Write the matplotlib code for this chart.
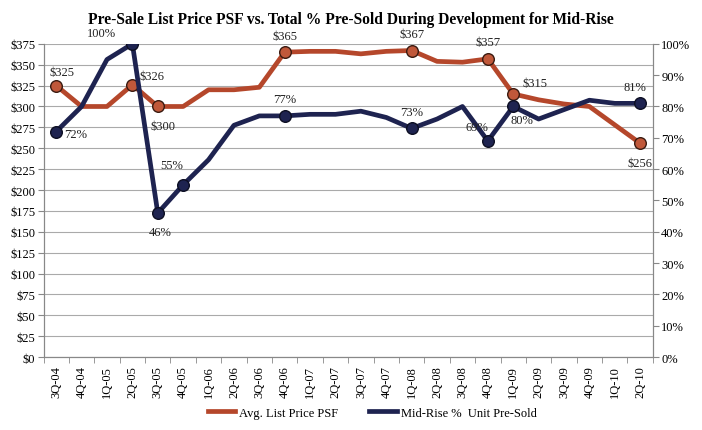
import matplotlib.pyplot as plt
import numpy as np

plt.rcParams["font.family"] = ["Liberation Serif", "DejaVu Serif"]

quarters = ["3Q-04", "4Q-04", "1Q-05", "2Q-05", "3Q-05", "4Q-05", "1Q-06", "2Q-06",
            "3Q-06", "4Q-06", "1Q-07", "2Q-07", "3Q-07", "4Q-07", "1Q-08", "2Q-08",
            "3Q-08", "4Q-08", "1Q-09", "2Q-09", "3Q-09", "4Q-09", "1Q-10", "2Q-10"]
price_psf = [325, 300, 300, 326, 300, 300, 320, 320, 323, 365, 366, 366,
             363, 366, 367, 354, 353, 357, 315, 308, 303, 300, 278, 256]
pct_sold = [72, 80, 95, 100, 46, 55, 63, 74, 77, 77, 77.5, 77.5,
            78.5, 76.5, 73, 76, 80, 69, 80, 76, 79, 82, 81, 81]

price_marks = [0, 3, 4, 9, 14, 17, 18, 23]
pct_marks = [0, 3, 4, 5, 9, 14, 17, 18, 23]

# label text, index, (dx, dy) offset in points
price_labels = [("$325", 0, (4, 10)), ("$326", 3, (14, 6)), ("$300", 4, (4, -14)),
                ("$365", 9, (0, 12)), ("$367", 14, (0, 12)), ("$357", 17, (0, 12)),
                ("$315", 18, (16, 8)), ("$256", 23, (0, -14))]
pct_labels = [("72%", 0, (14, -2)), ("100%", 3, (-22, 8)), ("46%", 4, (2, -14)),
              ("55%", 5, (-8, 14)), ("77%", 9, (0, 12)), ("73%", 14, (0, 12)),
              ("69%", 17, (-8, 10)), ("80%", 18, (6, -10)), ("81%", 23, (-4, 12))]

RED = "#b5472b"
NAVY = "#1e2350"

fig = plt.figure(figsize=(7.02, 4.31), dpi=100)
ax = fig.add_axes([0.062, 0.169, 0.868, 0.727])
ax2 = ax.twinx()

x = np.arange(len(quarters))

ax.plot(x, price_psf, color=RED, lw=3.4, zorder=3, solid_joinstyle="round")
ax.scatter(x[price_marks], np.array(price_psf)[price_marks], s=70, color="#c0583a",
           edgecolor="#3a1a10", linewidth=1, zorder=4)
ax2.plot(x, pct_sold, color=NAVY, lw=3.4, zorder=3, solid_joinstyle="round")
ax2.scatter(x[pct_marks], np.array(pct_sold)[pct_marks], s=70, color=NAVY,
            edgecolor="#0c0e22", linewidth=1, zorder=4)

for text, i, off in price_labels:
    ax.annotate(text, (x[i], price_psf[i]), xytext=off, textcoords="offset points",
                ha="center", va="center", fontsize=9, color="#222222")
for text, i, off in pct_labels:
    ax2.annotate(text, (x[i], pct_sold[i]), xytext=off, textcoords="offset points",
                 ha="center", va="center", fontsize=9, color="#222222")

ax.set_xlim(-0.5, len(quarters) - 0.5)
ax.set_ylim(0, 375)
ax2.set_ylim(0, 100)
ax.set_yticks(np.arange(0, 376, 25))
ax.set_yticklabels([f"${v}" for v in range(0, 376, 25)], fontsize=9)
ax2.set_yticks(np.arange(0, 101, 10))
ax2.set_yticklabels([f"{v}%" for v in range(0, 101, 10)], fontsize=9)
ax.set_xticks(x)
ax.set_xticklabels(quarters, rotation=90, fontsize=9)
ax.set_xticks(np.arange(-0.5, len(quarters), 1), minor=True)
ax.tick_params(axis="x", which="major", length=0, pad=6)
ax.tick_params(axis="x", which="minor", length=4, color="#888888")
ax.tick_params(axis="y", length=4, color="#888888", pad=2)
ax2.tick_params(axis="y", length=4, color="#888888", pad=2)

ax.grid(axis="y", color="#aaaaaa", lw=0.8)
ax.set_axisbelow(True)
for a in (ax, ax2):
    a.spines["top"].set_visible(False)
    for s in ("left", "right", "bottom"):
        a.spines[s].set_color("#888888")

ax.plot([], [], color=RED, lw=3.4, label="Avg. List Price PSF")
ax.plot([], [], color=NAVY, lw=3.4, label="Mid-Rise %  Unit Pre-Sold")
fig.legend(loc="lower center", ncol=2, frameon=False, fontsize=9,
           bbox_to_anchor=(0.53, 0.0), handlelength=2.2, handletextpad=0.3,
           columnspacing=2.5)

fig.suptitle("Pre-Sale List Price PSF vs. Total % Pre-Sold During Development for Mid-Rise",
             fontsize=11.2, fontweight="bold", y=0.972)

fig.savefig("out.png", dpi=100)
